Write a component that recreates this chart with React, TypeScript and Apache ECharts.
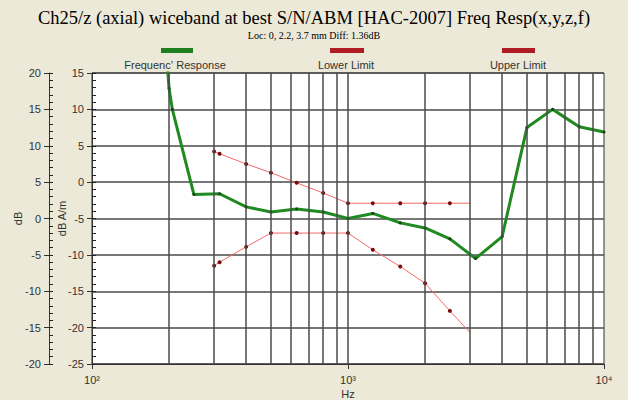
import React, { useEffect, useRef } from "react";
import * as echarts from "echarts";

const titleText = "Ch25/z (axial) wiceband at best S/N/ABM [HAC-2007] Freq Resp(x,y,z,f)";
const subText = "Loc: 0, 2.2, 3.7 mm Diff: 1.36dB";
const legendNames = ["Frequenc\u02bc Response", "Lower Limit", "Upper Limit"];

const respFreq = [196, 200, 206, 250, 315, 400, 500, 630, 800, 1000, 1250, 1600, 2000, 2500, 3150, 4000, 5000, 6300, 8000, 10000];
const respDb = [17, 12.9, 10, -1.7, -1.6, -3.4, -4.1, -3.7, -4.1, -5.0, -4.3, -5.6, -6.3, -7.8, -10.5, -7.5, 7.5, 10.0, 7.6, 6.9];

const limFreq = [300, 315, 400, 500, 630, 800, 1000, 1250, 1600, 2000, 2500, 3000];
const lowerDb = [-11.5, -11.0, -8.9, -7.0, -7.0, -7.0, -7.0, -9.3, -11.6, -13.9, -17.7, -20.7];
const upperDb = [4.2, 3.9, 2.5, 1.3, -0.1, -1.5, -2.9, -2.9, -2.9, -2.9, -2.9, -2.9];

const gridFreq = [200, 300, 400, 500, 600, 700, 800, 900, 1000, 2000, 3000, 4000, 5000, 6000, 7000, 8000, 9000];
const xTickLabels: Record<number, string> = { 100: "10\u00b2", 1000: "10\u00b3", 10000: "10\u2074" };

const GRID = "#4a4a4a";
const SANS = "Liberation Sans";
const SERIF = "Liberation Serif";

export default function App() {
  const ref = useRef<HTMLDivElement>(null);
  useEffect(() => {
    if (!ref.current) return;
    const chart = echarts.init(ref.current, undefined, { renderer: "svg" });
    const lastNoDot = (arr: number[][]) =>
      arr.map((p, i) => (i === arr.length - 1 ? { value: p, symbol: "none" } : { value: p }));
    const resp = respFreq.map((f, i) => [f, respDb[i]]);
    const lower = limFreq.map((f, i) => [f, lowerDb[i]]);
    const upper = limFreq.map((f, i) => [f, upperDb[i]]);

    const minorAxis = (min: number, max: number, offset: number) => ({
      type: "value",
      position: "left",
      offset,
      min,
      max,
      interval: 1,
      axisLine: { show: false },
      axisLabel: { show: false },
      splitLine: { show: false },
      axisTick: { show: true, inside: true, length: 4, lineStyle: { color: "#222" } },
    });

    chart.setOption({
      animation: false,
      backgroundColor: "#ECE9D8",
      title: {
        left: "center",
        top: 3,
        text: titleText,
        textStyle: { fontFamily: SERIF, fontSize: 18.5, fontWeight: "normal", color: "#000" },
        subtext: subText,
        subtextStyle: { fontFamily: SERIF, fontSize: 10, color: "#000" },
        itemGap: 3,
      },
      graphic: [
        { type: "rect", shape: { x: 161, y: 48, width: 32, height: 5 }, style: { fill: "#1f7f1f" } },
        { type: "rect", shape: { x: 330, y: 48, width: 34, height: 5 }, style: { fill: "#b01c24" } },
        { type: "rect", shape: { x: 502, y: 48, width: 33, height: 5 }, style: { fill: "#b01c24" } },
        { type: "text", x: 175, y: 65, style: { text: legendNames[0], fontFamily: SANS, fontSize: 11, fill: "#333", align: "center", verticalAlign: "middle" } },
        { type: "text", x: 346, y: 65, style: { text: legendNames[1], fontFamily: SANS, fontSize: 11, fill: "#333", align: "center", verticalAlign: "middle" } },
        { type: "text", x: 518, y: 65, style: { text: legendNames[2], fontFamily: SANS, fontSize: 11, fill: "#333", align: "center", verticalAlign: "middle" } },
      ],
      grid: {
        left: 92,
        top: 73,
        width: 512,
        height: 291,
        containLabel: false,
        outerBoundsMode: "none",
        show: true,
        backgroundColor: "#ffffff",
        borderColor: "#333",
        borderWidth: 1,
      },
      xAxis: {
        type: "log",
        logBase: 10,
        min: 100,
        max: 10000,
        name: "Hz",
        nameLocation: "middle",
        nameGap: 24,
        nameMoveOverlap: false,
        nameTextStyle: { fontFamily: SANS, fontSize: 11, color: "#333" },
        axisLine: { show: true, onZero: false, lineStyle: { color: "#333" } },
        axisTick: { show: true, length: 5, lineStyle: { color: "#333" } },
        axisLabel: {
          fontFamily: SANS,
          fontSize: 11,
          color: "#333",
          margin: 10,
          formatter: (v: number) => xTickLabels[Math.round(v)] ?? "",
        },
        splitLine: { show: false },
        minorTick: { show: false },
      },
      yAxis: [
        {
          type: "value",
          position: "left",
          offset: 0,
          min: -25,
          max: 15,
          interval: 5,
          name: "dB A/m",
          nameLocation: "middle",
          nameGap: 25,
          nameMoveOverlap: false,
          nameTextStyle: { fontFamily: SANS, fontSize: 11, color: "#333" },
          axisLine: { show: true, onZero: false, lineStyle: { color: "#333" } },
          axisTick: { show: true, length: 5, lineStyle: { color: "#333" } },
          axisLabel: { fontFamily: SANS, fontSize: 11, color: "#333", margin: 8 },
          splitLine: { show: true, lineStyle: { color: GRID, width: 1.5 } },
        },
        minorAxis(-25, 15, 0),
        {
          type: "value",
          position: "left",
          offset: 43,
          min: -20,
          max: 20,
          interval: 5,
          name: "dB",
          nameLocation: "middle",
          nameGap: 26,
          nameMoveOverlap: false,
          nameTextStyle: { fontFamily: SANS, fontSize: 11, color: "#333" },
          axisLine: { show: true, onZero: false, lineStyle: { color: "#333" } },
          axisTick: { show: true, length: 5, lineStyle: { color: "#333" } },
          axisLabel: { fontFamily: SANS, fontSize: 11, color: "#333", margin: 8 },
          splitLine: { show: false },
        },
        minorAxis(-20, 20, 43),
      ],
      series: [
        {
          name: "grid",
          type: "line",
          data: [],
          z: 1,
          silent: true,
          markLine: {
            silent: true,
            symbol: ["none", "none"],
            label: { show: false },
            lineStyle: { color: GRID, width: 1.5, type: "solid" },
            data: gridFreq.map((f) => ({ xAxis: f })),
          },
        },
        {
          name: "Upper Limit",
          type: "line",
          z: 3,
          data: lastNoDot(upper),
          symbol: "circle",
          symbolSize: 4,
          itemStyle: { color: "#7a0a0a" },
          lineStyle: { color: "#f26a6a", width: 1 },
        },
        {
          name: "Lower Limit",
          type: "line",
          z: 3,
          data: lastNoDot(lower),
          symbol: "circle",
          symbolSize: 4,
          itemStyle: { color: "#7a0a0a" },
          lineStyle: { color: "#f26a6a", width: 1 },
        },
        {
          name: "Frequency Response",
          type: "line",
          z: 4,
          data: resp.map((p, i) => (i === 0 ? { value: p, symbol: "none" } : { value: p })),
          symbol: "circle",
          symbolSize: 3,
          itemStyle: { color: "#1b3f1b" },
          lineStyle: { color: "#1f8a1f", width: 3 },
        },
      ],
    });
    return () => chart.dispose();
  }, []);
  return <div ref={ref} style={{ position: "fixed", left: 0, top: 0, width: 628, height: 400 }} />;
}
